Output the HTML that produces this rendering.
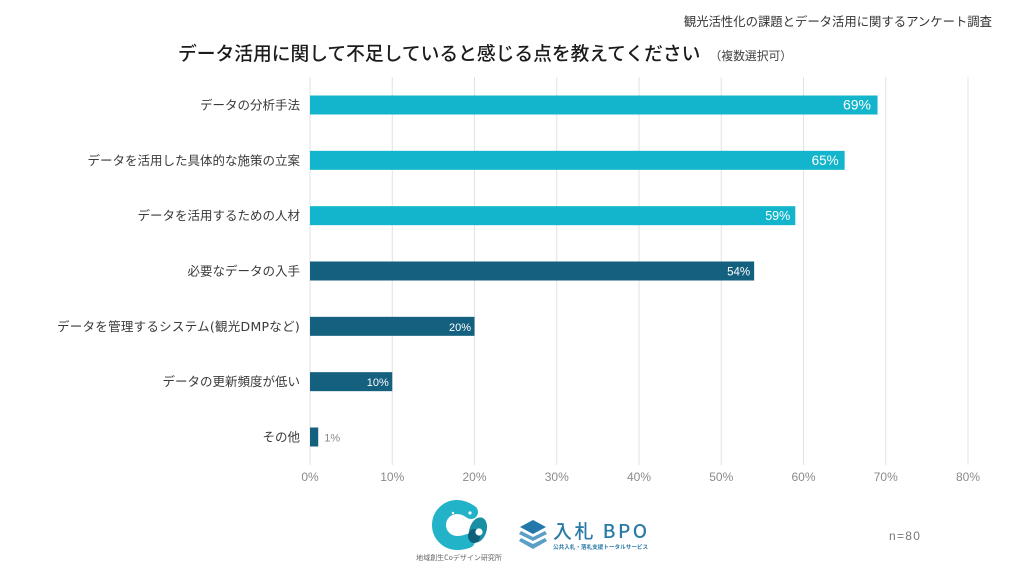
<!DOCTYPE html>
<html lang="ja">
<head>
<meta charset="utf-8">
<title>データ活用に関して不足していると感じる点</title>
<style>
html,body{margin:0;padding:0;background:#fff;width:1024px;height:576px;overflow:hidden}
svg{display:block}
text{font-family:"Liberation Sans","Noto Sans CJK JP",sans-serif}
.jp{font-family:"Noto Sans CJK JP","Liberation Sans",sans-serif}
.cat{font-family:"DejaVu Sans","Noto Sans CJK JP",sans-serif}
</style>
</head>
<body>
<svg id="chart" width="1024" height="576" viewBox="0 0 1024 576" xmlns="http://www.w3.org/2000/svg">
  <rect x="0" y="0" width="1024" height="576" fill="#ffffff"/>
  <text class="jp" x="992" y="26" text-anchor="end" font-size="12.35" fill="#333">観光活性化の課題とデータ活用に関するアンケート調査</text>
  <text class="jp" x="178" y="60" font-size="18.75" font-weight="500" fill="#1c1c1c">データ活用に関して不足していると感じる点を教えてください</text>
  <text class="jp" x="709.5" y="60" font-size="11.8" fill="#444">（複数選択可）</text>
  <g id="grid"></g>
  <g id="bars"></g>
  <g id="ylabels"></g>
  <g id="xlabels"></g>

  <g>
    <path d="M471 512 Q464 507 457 507 A18 18 0 1 0 457 543 Q463 543 468 541" fill="none" stroke="#22b3c8" stroke-width="14" stroke-linecap="round"/>
    <ellipse cx="478" cy="530" rx="8.5" ry="13" transform="rotate(18 478 530)" fill="#1a8fa3"/>
    <ellipse cx="474" cy="536" rx="6" ry="7" fill="#0e5f7a"/>
    <circle cx="479" cy="532" r="3.6" fill="#ffffff"/>
    <circle cx="453" cy="513" r="1.2" fill="#ffffff"/>
    <circle cx="470" cy="513" r="1.6" fill="#ffffff"/>
    <text class="jp" x="459" y="560" text-anchor="middle" font-size="7" fill="#666">地域創生Coデザイン研究所</text>
  </g>

  <g>
    <path d="M533 520 L546 527 L533 534 L520 527Z" fill="#2278ab"/>
    <path d="M521 531 L533 537 L545 531 L547 534 L533 541 L519 534Z" fill="#5b9fc6"/>
    <path d="M521 538 L533 544 L545 538 L547 541 L533 549 L519 541Z" fill="#5b9fc6"/>
    <text class="jp" x="553" y="538" font-size="19" font-weight="500" letter-spacing="2.5" fill="#2a7aa8">入札 BPO</text>
    <text class="jp" x="553" y="549" font-size="5.6" font-weight="700" fill="#2a7aa8">公共入札・落札支援トータルサービス</text>
  </g>

  <text x="889" y="540" font-size="12" letter-spacing="1.3" fill="#777">n=80</text>

  <script>
    var categories = ["データの分析手法","データを活用した具体的な施策の立案","データを活用するための人材","必要なデータの入手","データを管理するシステム(観光DMPなど)","データの更新頻度が低い","その他"];
    var values = [69, 65, 59, 54, 20, 10, 1];
    var highlighted = [true, true, true, false, false, false, false];
    var ticks = [0, 10, 20, 30, 40, 50, 60, 70, 80];
    var labelSizes = [14, 13.5, 12.5, 11.5, 11, 11, 11];

    var NS = "http://www.w3.org/2000/svg";
    var xLeft = 310, xRight = 968, yTop = 77, yBottom = 465;
    var maxValue = ticks[ticks.length - 1];
    function xScale(v) { return xLeft + (xRight - xLeft) * v / maxValue; }
    function bandCenter(i) { return 105 + i * (437 - 105) / (categories.length - 1); }
    function make(tag, parent, attrs, txt) {
      var el = document.createElementNS(NS, tag);
      for (var k in attrs) { el.setAttribute(k, attrs[k]); }
      if (txt !== undefined) { el.textContent = txt; }
      parent.appendChild(el);
      return el;
    }
    var grid = document.getElementById("grid");
    var barsG = document.getElementById("bars");
    var ylabels = document.getElementById("ylabels");
    var xlabels = document.getElementById("xlabels");

    ticks.forEach(function (t) {
      var line = make("line", grid, {x1: xScale(t), x2: xScale(t), y1: yTop, y2: yBottom, stroke: "#e2e2e2", "stroke-width": 1});
      
      
      var lab = make("text", xlabels, {x: xScale(t), y: 481, "text-anchor": "middle", "font-size": 12, fill: "#8a8a8a"}, t + "%");
      
      
    });

    categories.forEach(function (c, i) {
      var cy = bandCenter(i);
      var w = xScale(values[i]) - xLeft;
      var bar = make("rect", barsG, {x: xLeft, y: cy - 9.5, width: w, height: 19, fill: highlighted[i] ? "#12b5cb" : "#14607f"});
      
      

      var cat = make("text", ylabels, {x: 300, y: cy + 4.5, "text-anchor": "end", "font-size": 12.5, fill: "#3a3a3a", "class": "cat", "letter-spacing": /[A-Z]/.test(c) ? 0.27 : 0}, c);
      
      

      var inside = values[i] >= 5;
      var pad = 3.5 + (labelSizes[i] - 11);
      var val = make("text", barsG, {
        x: inside ? xScale(values[i]) - pad : xScale(values[i]) + 6,
        y: cy + 4.5,
        "text-anchor": inside ? "end" : "start",
        "font-size": labelSizes[i],
        fill: inside ? "#ffffff" : "#8a8a8a"
      }, values[i] + "%");
      
      
    });
  </script>
</svg>
</body>
</html>
